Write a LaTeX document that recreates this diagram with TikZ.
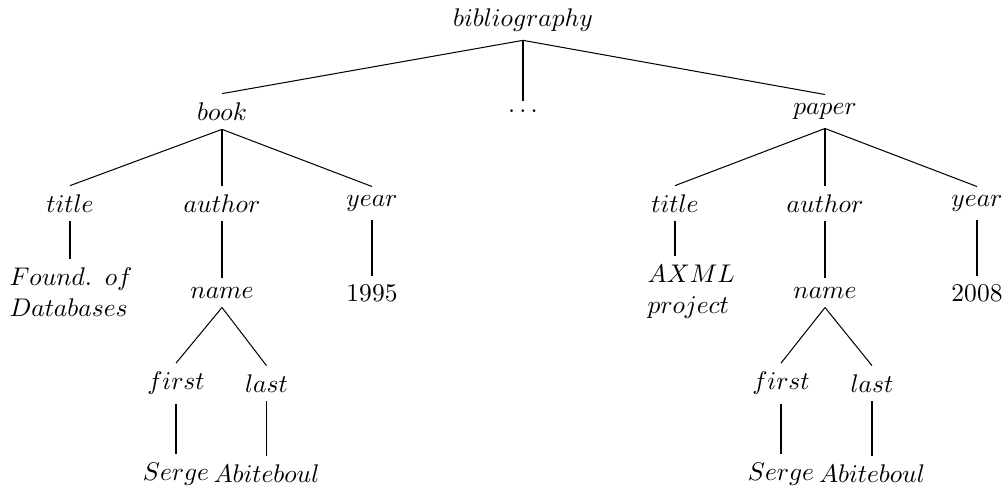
\documentclass[tikz,border=0pt]{standalone}
\begin{document}
\begin{tikzpicture}[x=0.392pt,y=-0.392pt,
  lbl/.style={inner sep=0.3333em},
  two/.style={lbl,align=left,anchor=west},
  edge/.style={line width=0.4pt}]
\useasboundingbox (0,0) rectangle (1003,489);
% level 0
\node[lbl] (bib) at (523,20) {$bibliography$};
% level 1
\node[lbl] (book) at (222,111.5) {$book$};
\node[lbl] (dots) at (523,111.5) {$\ldots$};
\node[lbl] (paper) at (825,111.5) {$paper$};
% level 2
\node[lbl] (t1) at (70,203.5) {$title$};
\node[lbl] (a1) at (222,203.5) {$author$};
\node[lbl] (y1) at (372,203.5) {$year$};
\node[lbl] (t2) at (675,203.5) {$title$};
\node[lbl] (a2) at (825,203.5) {$author$};
\node[lbl] (y2) at (977,203.5) {$year$};
% level 3
\node[two] (f1) at (0.5,292) {$Found.\hspace{5pt}of$\\$Databases$};
\node[lbl] (n1) at (222,293) {$name$};
\node[lbl] (v1) at (372,293) {$1995$};
\node[two] (f2) at (638.5,292) {$AXML$\\$project$};
\node[lbl] (n2) at (825,293) {$name$};
\node[lbl] (v2) at (977,293) {$2008$};
% level 4
\node[lbl] (fi1) at (176,383.5) {$first$};
\node[lbl] (la1) at (266.5,383.5) {$last$};
\node[lbl] (fi2) at (781,383.5) {$first$};
\node[lbl] (la2) at (872,383.5) {$last$};
% level 5
\node[lbl] (s1) at (176,474) {$Serge$};
\node[lbl] (ab1) at (266.5,474) {$Abiteboul$};
\node[lbl] (s2) at (781,474) {$Serge$};
\node[lbl] (ab2) at (872,474) {$Abiteboul$};
% edges
\draw[edge] (bib.south) -- (book.north);
\draw[edge] (bib.south) -- (dots.north);
\draw[edge] (bib.south) -- (paper.north);
\draw[edge] (book.south) -- (t1.north);
\draw[edge] (book.south) -- (a1.north);
\draw[edge] (book.south) -- (y1.north);
\draw[edge] (paper.south) -- (t2.north);
\draw[edge] (paper.south) -- (a2.north);
\draw[edge] (paper.south) -- (y2.north);
\draw[edge] (t1.south) -- (t1.south |- f1.north);
\draw[edge] (a1.south) -- (n1.north);
\draw[edge] (y1.south) -- (v1.north);
\draw[edge] (t2.south) -- (t2.south |- f2.north);
\draw[edge] (a2.south) -- (n2.north);
\draw[edge] (y2.south) -- (v2.north);
\draw[edge] (n1.south) -- (fi1.north);
\draw[edge] (n1.south) -- (la1.north);
\draw[edge] (n2.south) -- (fi2.north);
\draw[edge] (n2.south) -- (la2.north);
\draw[edge] (fi1.south) -- (s1.north);
\draw[edge] (la1.south) -- (ab1.north);
\draw[edge] (fi2.south) -- (s2.north);
\draw[edge] (la2.south) -- (ab2.north);
\end{tikzpicture}
\end{document}
